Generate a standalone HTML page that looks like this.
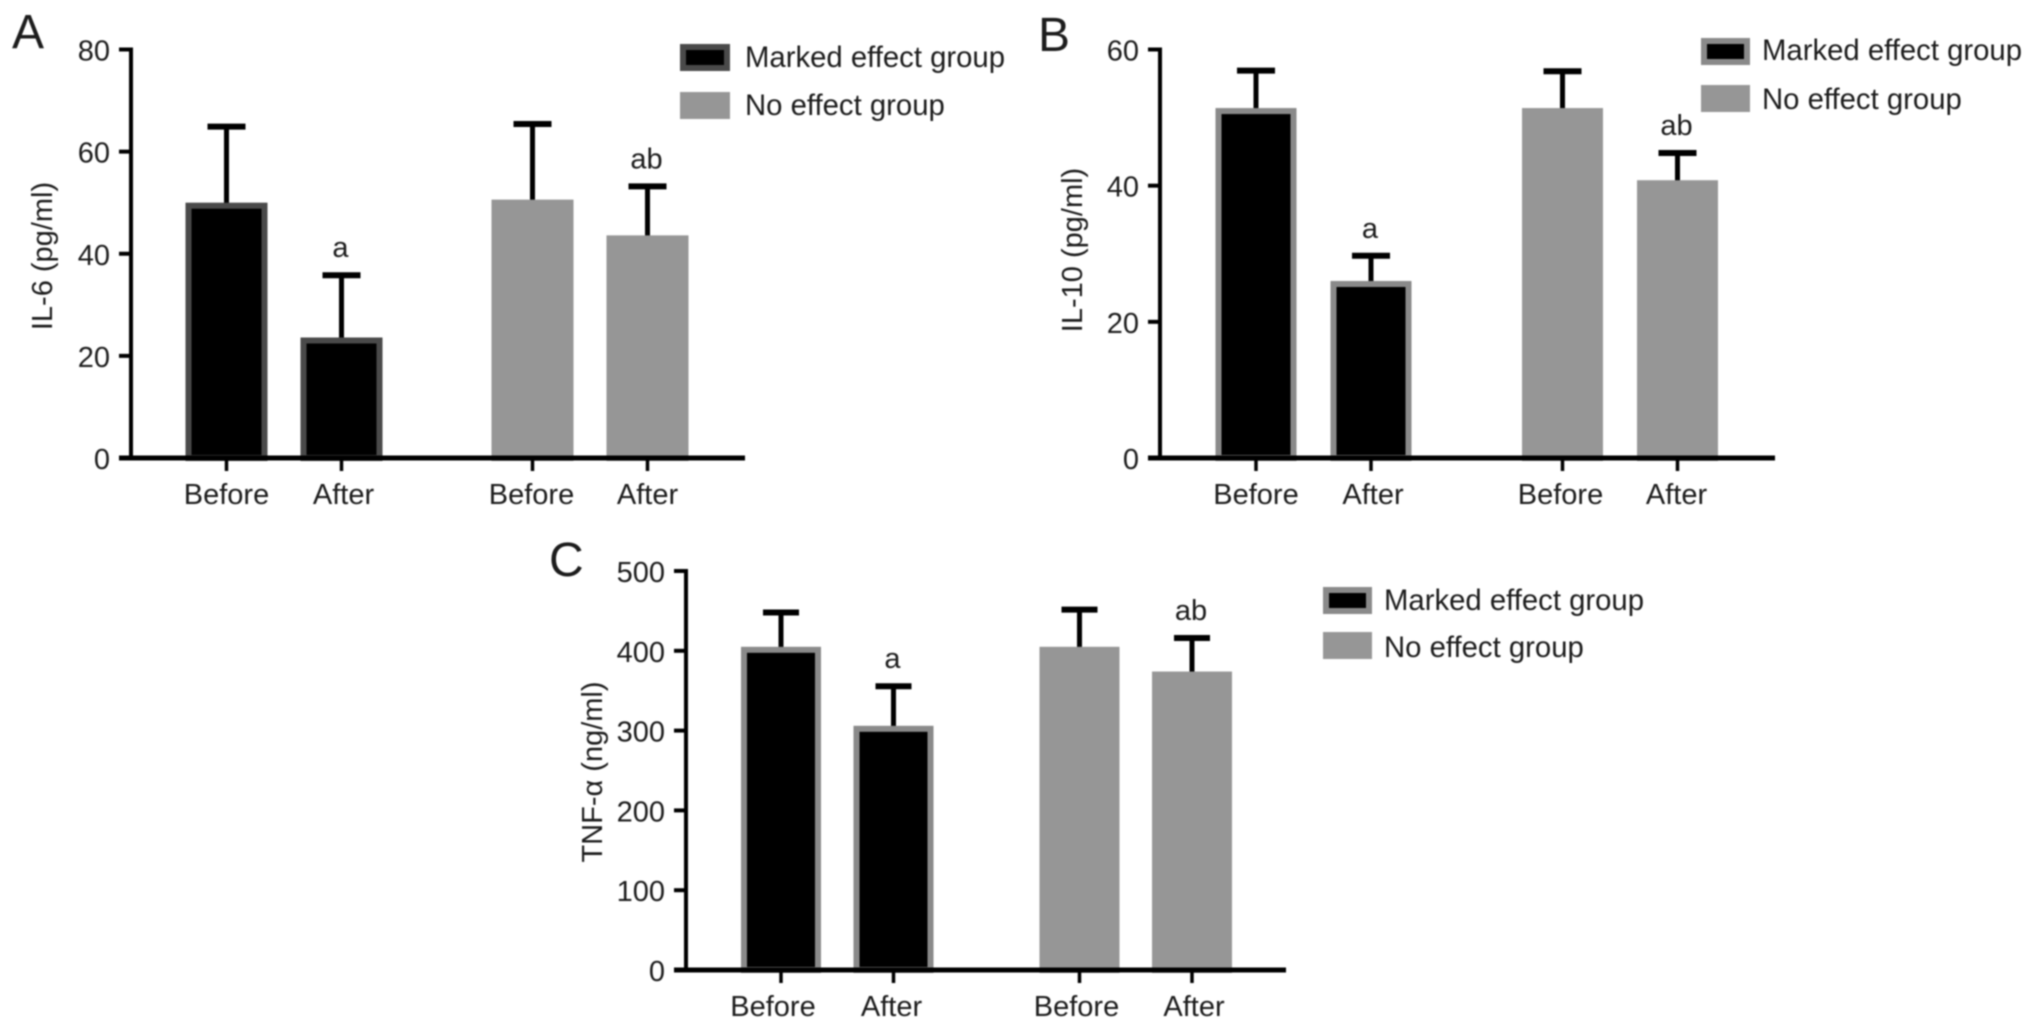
<!DOCTYPE html>
<html lang="en">
<head>
<meta charset="utf-8">
<title>IL-6, IL-10 and TNF-α before and after treatment</title>
<style>
html,body{margin:0;padding:0;background:#fff;width:2032px;height:1029px;overflow:hidden}
svg{display:block;filter:blur(0.7px)}
text{font-family:"Liberation Sans",Arial,sans-serif;fill:#1c1c1c}
.letter{font-size:48px}
.title{font-size:29px;text-anchor:middle}
.legend{font-size:29.3px}
.tick{font-size:29px}
</style>
</head>
<body>
<svg id="figure" xmlns="http://www.w3.org/2000/svg" width="2032" height="1029" viewBox="0 0 2032 1029">
  <rect width="2032" height="1029" fill="#fff"/>

  <g id="panel-a">
    <text class="letter" x="12" y="48">A</text>
    <text class="title" transform="translate(52,256) rotate(-90)">IL-6 (pg/ml)</text>
    <g>
      <rect x="683" y="47" width="44" height="21" fill="#000" stroke="#4a4a4a" stroke-width="6"/>
      <text class="legend" x="745" y="67">Marked effect group</text>
      <rect x="680" y="92" width="50" height="27" fill="#969696"/>
      <text class="legend" x="745" y="115">No effect group</text>
    </g>
  </g>

  <g id="panel-b">
    <text class="letter" x="1038" y="51">B</text>
    <text class="title" transform="translate(1082,250) rotate(-90)">IL-10 (pg/ml)</text>
    <g>
      <rect x="1704" y="41" width="43" height="21" fill="#000" stroke="#8a8a8a" stroke-width="6"/>
      <text class="legend" x="1762" y="60">Marked effect group</text>
      <rect x="1701" y="85" width="49" height="27" fill="#969696"/>
      <text class="legend" x="1762" y="109">No effect group</text>
    </g>
  </g>

  <g id="panel-c">
    <text class="letter" x="549" y="576">C</text>
    <text class="title" transform="translate(602,772) rotate(-90)">TNF-α (ng/ml)</text>
    <g>
      <rect x="1326" y="590" width="43" height="21" fill="#000" stroke="#8a8a8a" stroke-width="6"/>
      <text class="legend" x="1384" y="610">Marked effect group</text>
      <rect x="1323" y="632" width="49" height="27" fill="#969696"/>
      <text class="legend" x="1384" y="657">No effect group</text>
    </g>
  </g>
</svg>

<script>
// Shared categories
const categories = ['Before', 'After', 'Before', 'After'];
const groupIndex = [0, 0, 1, 1];
const annotations = ['', 'a', '', 'ab'];

// Panel A: IL-6 (pg/ml)
const il6Means = [50, 23.6, 50.6, 43.6];
const il6Errors = [14.9, 12.2, 14.8, 9.6];
const il6Ticks = [0, 20, 40, 60, 80];

// Panel B: IL-10 (pg/ml)
const il10Means = [51.4, 26, 51.4, 40.8];
const il10Errors = [5.5, 3.7, 5.4, 4];
const il10Ticks = [0, 20, 40, 60];

// Panel C: TNF-alpha (ng/ml)
const tnfMeans = [405, 306, 405, 374];
const tnfErrors = [43, 49.6, 46.6, 42];
const tnfTicks = [0, 100, 200, 300, 400, 500];

const NS = 'http://www.w3.org/2000/svg';

function make(parent, tag, attrs) {
  const node = document.createElementNS(NS, tag);
  for (const key in attrs) node.setAttribute(key, attrs[key]);
  parent.appendChild(node);
  return node;
}

function drawPanel(panelId, means, errors, ticks, layout) {
  const panel = document.getElementById(panelId);
  const yMax = ticks[ticks.length - 1];
  const yScale = function (v) {
    return layout.baseY - (v / yMax) * (layout.baseY - layout.topY);
  };
  const xScale = function (i) {
    return layout.firstX + i * layout.step + groupIndex[i] * layout.groupGap;
  };

  means.forEach(function (mean, i) {
    const cx = xScale(i);
    const top = yScale(mean);
    const capY = yScale(mean + errors[i]);
    const isMarked = groupIndex[i] === 0;

    const stem = make(panel, 'line', { x1: cx, x2: cx, y1: top + 4, y2: capY, stroke: '#000', 'stroke-width': 5 });
    
    

    const cap = make(panel, 'line', { x1: cx - layout.capWidth / 2, x2: cx + layout.capWidth / 2, y1: capY, y2: capY, stroke: '#000', 'stroke-width': 6 });
    
    

    const bar = make(panel, 'rect', {
      x: cx - layout.barWidth / 2 + 3,
      y: top + 3,
      width: layout.barWidth - 6,
      height: Math.max(0, layout.baseY - top - 3),
      fill: isMarked ? '#000' : '#969696',
      stroke: isMarked ? layout.barEdge : '#969696',
      'stroke-width': 6
    });
    
    

    if (annotations[i]) {
      const note = make(panel, 'text', { x: cx - 1, y: capY - 18, 'text-anchor': 'middle', class: 'tick' });
      note.textContent = annotations[i];
      
      
    }

    const xTick = make(panel, 'line', { x1: cx, x2: cx, y1: layout.baseY, y2: layout.baseY + 13, stroke: '#000', 'stroke-width': 3.5 });
    
    

    const xLabel = make(panel, 'text', { x: cx + layout.labelNudge[i], y: layout.baseY + 46, 'text-anchor': 'middle', class: 'tick' });
    xLabel.textContent = categories[i];
    
    
  });

  const xAxis = make(panel, 'line', { x1: layout.axisX - 12, x2: layout.axisEnd, y1: layout.baseY, y2: layout.baseY, stroke: '#000', 'stroke-width': 5 });
  
  

  const yAxis = make(panel, 'line', { x1: layout.axisX, x2: layout.axisX, y1: layout.topY - 2, y2: layout.baseY, stroke: '#000', 'stroke-width': 4 });
  
  

  ticks.forEach(function (tick) {
    const y = yScale(tick);
    const mark = make(panel, 'line', { x1: layout.axisX - 12, x2: layout.axisX, y1: y, y2: y, stroke: '#000', 'stroke-width': 4 });
    
    

    const label = make(panel, 'text', { x: layout.axisX - 21, y: y + 11, 'text-anchor': 'end', class: 'tick' });
    label.textContent = tick;
    
    
  });
}

drawPanel('panel-a', il6Means, il6Errors, il6Ticks, {
  axisX: 131, axisEnd: 745, topY: 49.5, baseY: 458,
  firstX: 226.5, step: 115, groupGap: 76,
  barWidth: 82, capWidth: 38, barEdge: '#4a4a4a',
  labelNudge: [0, 2, -1, 0]
});

drawPanel('panel-b', il10Means, il10Errors, il10Ticks, {
  axisX: 1160, axisEnd: 1775, topY: 49.5, baseY: 458,
  firstX: 1256, step: 115, groupGap: 76.5,
  barWidth: 81, capWidth: 38, barEdge: '#8a8a8a',
  labelNudge: [0, 2, -2, -1]
});

drawPanel('panel-c', tnfMeans, tnfErrors, tnfTicks, {
  axisX: 686, axisEnd: 1286, topY: 571, baseY: 970,
  firstX: 781, step: 112.5, groupGap: 73.5,
  barWidth: 80, capWidth: 36, barEdge: '#8a8a8a',
  labelNudge: [-8, -2, -3, 2]
});
</script>
</body>
</html>
